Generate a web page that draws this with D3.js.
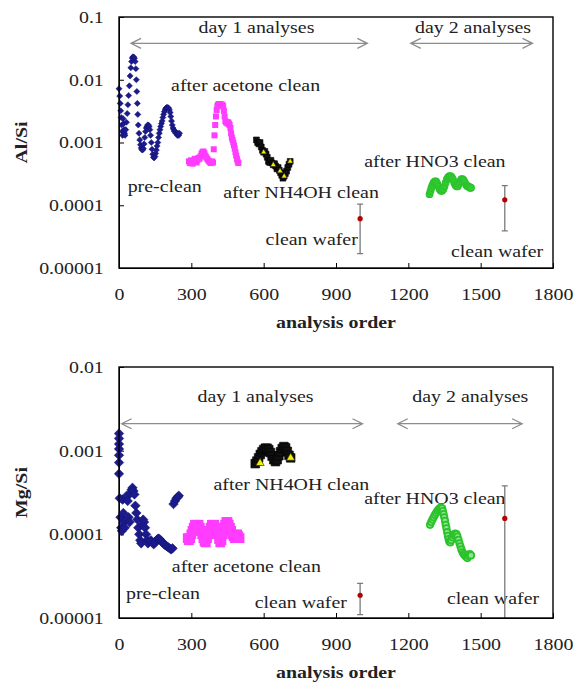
<!DOCTYPE html>
<html>
<head>
<meta charset="utf-8">
<script src="https://cdn.jsdelivr.net/npm/d3@7"></script>
<style>
body { margin: 0; background: #fff; }
svg text { font-family: "Liberation Serif", "Times New Roman", serif; font-size: 17px; fill: #222; }
</style>
</head>
<body>
<div class="chart-area"></div>
<script>
// two stacked log-scale panels: Al/Si and Mg/Si vs analysis order

// ---- tick values ----
const xTickValues = [0, 300, 600, 900, 1200, 1500, 1800];
const alTickValues = [0.1, 0.01, 0.001, 0.0001, 0.00001];
const mgTickValues = [0.01, 0.001, 0.0001, 0.00001];

// ---- Al/Si data ----
const alPreX = [0,3,5,7,9,11,13,15,17,19,21,23,25,28,31,34,37,40,43,46,49,52,55,58,61,64,67,70,72,74,76,78,80,83,86,89,92,95,98,101,104,107,110,113,116,119,122,125,128,131,134,137,140,143,146,149,152,155,158,161,164,167,170,173,176,179,182,185,188,191,194,197,200,203,206,209,212,215,218,221,224,227,230,233,236,239,242,245,248,251];
const alPreY = [0.0072,0.0055,0.0042,0.0032,0.0025,0.0019,0.0015,0.0013,0.0024,0.0020,0.0016,0.0014,0.0013,0.0016,0.0021,0.0029,0.0040,0.0056,0.0080,0.0115,0.0155,0.0195,0.0222,0.0232,0.0230,0.0220,0.0195,0.0150,0.0100,0.0065,0.0042,0.0028,0.0019,0.0014,0.0011,0.00092,0.00082,0.00077,0.00076,0.00080,0.00095,0.0012,0.0015,0.0017,0.0018,0.0019,0.0019,0.0018,0.0016,0.0013,0.0010,0.00078,0.00065,0.00058,0.00057,0.00060,0.00067,0.00076,0.00088,0.0010,0.0012,0.0014,0.0016,0.0018,0.0020,0.0022,0.0025,0.0028,0.0031,0.0033,0.0035,0.0036,0.0036,0.0036,0.0035,0.0033,0.0030,0.0026,0.0022,0.0019,0.0017,0.0016,0.0015,0.0015,0.0014,0.0014,0.0013,0.0014,0.0013,0.0014];

const alAceX = [290,294,298,302,306,310,314,318,322,326,330,334,338,342,346,350,354,358,362,366,370,374,378,382,386,390,393,396,399,402,405,408,411,414,417,420,423,426,429,432,435,438,441,444,447,450,453,456,459,462,465,468,471,474,477,480,483,486,489,492,495];
const alAceY = [0.00050,0.00047,0.00052,0.00049,0.00046,0.00051,0.00055,0.00050,0.00048,0.00053,0.00057,0.00055,0.00060,0.00066,0.00070,0.00072,0.00068,0.00062,0.00058,0.00055,0.00052,0.00050,0.00048,0.00047,0.00050,0.00048,0.00078,0.0013,0.0019,0.0026,0.0033,0.0038,0.0040,0.0041,0.0040,0.0041,0.0040,0.0039,0.0040,0.0038,0.0032,0.0026,0.0022,0.0021,0.0021,0.0020,0.0021,0.0020,0.0019,0.0017,0.0014,0.0012,0.0011,0.0010,0.00090,0.00080,0.00070,0.00062,0.00055,0.00050,0.00047];

const alNhX = [570,575,580,585,590,595,600,605,610,615,620,625,630,635,640,645,650,655,660,665,670,675,680,685,690,695,700,705,710];
const alNhY = [0.0011,0.0010,0.00095,0.0010,0.00085,0.00075,0.00070,0.00072,0.00065,0.00058,0.00050,0.00048,0.00052,0.00047,0.00044,0.00046,0.00042,0.00038,0.00040,0.00036,0.00033,0.00030,0.00027,0.00029,0.00032,0.00035,0.00040,0.00045,0.00050];
const alTriX = [600, 640, 668, 685, 710];
const alTriY = [0.00070, 0.00044, 0.00035, 0.00029, 0.00050];

const alHnoX = [1288,1292,1296,1300,1305,1310,1315,1320,1325,1330,1335,1340,1345,1350,1355,1360,1365,1370,1375,1380,1385,1390,1395,1400,1405,1410,1415,1420,1425,1430,1435,1440,1445,1450,1455,1460];
const alHnoY = [0.00015,0.00017,0.00019,0.00021,0.00023,0.00024,0.00024,0.00022,0.00020,0.00018,0.00017,0.00017,0.00018,0.00020,0.00023,0.00026,0.00028,0.00029,0.00029,0.00028,0.00026,0.00023,0.00021,0.00020,0.00020,0.00022,0.00024,0.00026,0.00026,0.00025,0.00023,0.00021,0.00020,0.00020,0.00019,0.00019];

// clean wafers (mean, low, high)
const waferX = [1000, 1600];
const alWaferY = [0.000061, 0.000122];
const alWaferLo = [0.000017, 0.000039];
const alWaferHi = [0.000104, 0.000206];

// ---- Mg/Si data ----
const mgPreX = [0,0,0,0,0,0,0,3,6,9,12,15,18,21,24,28,32,36,40,44,48,52,56,60,64,68,72,76,80,84,88,92,96,100,104,108,112,116,120,126,132,138,144,150,156,162,168,174,180,186,192,198,204,210,216,222,226,232,238,244,248];
const mgPreY = [0.0016,0.0014,0.0012,0.00105,0.00088,0.00072,0.00053,0.00027,0.00016,0.00012,0.00011,0.00026,0.00018,0.00014,0.00012,0.00027,0.00029,0.00025,0.00016,0.00014,0.00031,0.00034,0.00036,0.00033,0.00030,0.00022,0.00018,0.00015,0.00012,0.00010,0.000085,0.000078,0.00013,0.00015,0.00014,0.00012,0.00010,0.000085,0.000078,0.000082,0.000085,0.000080,0.000076,0.000080,0.000085,0.000089,0.000088,0.000084,0.000080,0.000077,0.000074,0.000072,0.000070,0.000068,0.000066,0.000068,0.00023,0.00025,0.00027,0.00028,0.00029];

const mgAceX = [285,290,295,300,305,310,315,320,325,330,335,340,345,350,355,360,365,370,375,380,385,390,395,400,405,410,415,420,425,430,435,440,445,450,455,460,465,470,475,480,485,490,495,500];
const mgAceY = [0.000090,0.000085,0.000090,0.00010,0.00011,0.00012,0.00013,0.00013,0.00013,0.00013,0.00012,0.00011,0.00010,0.000090,0.000082,0.000080,0.000090,0.00010,0.00011,0.00012,0.00013,0.00013,0.00013,0.00012,0.00011,0.00010,0.000088,0.000080,0.000085,0.00010,0.00012,0.00013,0.00014,0.00014,0.00013,0.00012,0.00011,0.00010,0.000095,0.000090,0.000095,0.00010,0.000095,0.000090];

const mgNhX = [565,572,579,586,593,600,607,614,621,628,635,642,649,656,663,670,677,684,691,698,705,712];
const mgNhY = [0.00070,0.00075,0.00082,0.00090,0.00097,0.00103,0.00107,0.00107,0.00103,0.00095,0.00086,0.00078,0.00074,0.00078,0.00087,0.00097,0.00106,0.00112,0.00108,0.00098,0.00088,0.00082];
const mgTriX = [585, 712];
const mgTriY = [0.00071, 0.00082];

const mgHnoX = [1290,1295,1300,1305,1310,1315,1320,1325,1330,1335,1340,1343,1346,1349,1352,1355,1358,1361,1364,1367,1370,1374,1378,1382,1386,1390,1395,1400,1404,1408,1412,1416,1420,1425,1430,1435,1440,1445,1450,1455,1460];
const mgHnoY = [0.000130,0.000140,0.000150,0.000160,0.000170,0.000180,0.000190,0.000198,0.000205,0.000208,0.000205,0.000190,0.000175,0.000160,0.000145,0.000130,0.000118,0.000106,0.000096,0.000088,0.000082,0.000080,0.000085,0.000092,0.000098,0.000100,0.000102,0.000100,0.000094,0.000086,0.000078,0.000072,0.000066,0.000061,0.000058,0.000056,0.000054,0.000052,0.000055,0.000058,0.000056];

const mgWaferY = [0.0000187, 0.000155];
const mgWaferLo = [0.000011, 0.000001];   // second bar runs below the axis
const mgWaferHi = [0.000026, 0.00038];

// ---- layout ----
const svgWidth = 574, svgHeight = 684;
const plotLeft = 119, plotRight = 553;
const stretch = 1.17;   // the source font is wide

const svg = d3.select(".chart-area").append("svg")
    .attr("width", svgWidth)
    .attr("height", svgHeight);

const pts = (xs, ys) => xs.map((x, i) => ({ x: x, y: ys[i] }));
const wafers = (ys, lo, hi) => waferX.map((x, i) => ({ x: x, y: ys[i], lo: lo[i], hi: hi[i] }));

function putText(g, x, y, str, anchor, rotate) {
    return g.append("text")
        .attr("transform", `translate(${x},${y})${rotate ? " rotate(-90)" : ""} scale(${stretch},1)`)
        .attr("text-anchor", anchor || "start")
        .text(str);
}

const panels = [
    {
        top: 17, bottom: 268, yDomain: [0.00001, 0.1], yTicks: alTickValues, yTitle: "Al/Si",
        big: false,
        pre: pts(alPreX, alPreY), ace: pts(alAceX, alAceY), nh: pts(alNhX, alNhY),
        tri: pts(alTriX, alTriY), hno: pts(alHnoX, alHnoY),
        wafer: wafers(alWaferY, alWaferLo, alWaferHi),
        arrowY: 0.038, dayTextY: 0.0556,
        days: [{ from: 50, to: 1030, mid: 570, text: "day 1 analyses" },
               { from: 1210, to: 1715, mid: 1468, text: "day 2 analyses" }],
        labels: [
            { text: "after acetone clean", x: 216, y: 0.0065 },
            { text: "pre-clean", x: 36, y: 0.000165 },
            { text: "after NH4OH clean", x: 432, y: 0.000131 },
            { text: "clean wafer", x: 608, y: 0.0000234 },
            { text: "after HNO3 clean", x: 1017, y: 0.000413 },
            { text: "clean wafer", x: 1377, y: 0.0000152 }
        ]
    },
    {
        top: 367, bottom: 618, yDomain: [0.00001, 0.01], yTicks: mgTickValues, yTitle: "Mg/Si",
        big: true,
        pre: pts(mgPreX, mgPreY), ace: pts(mgAceX, mgAceY), nh: pts(mgNhX, mgNhY),
        tri: pts(mgTriX, mgTriY), hno: pts(mgHnoX, mgHnoY),
        wafer: wafers(mgWaferY, mgWaferLo, mgWaferHi),
        arrowY: 0.0021, dayTextY: 0.0038,
        days: [{ from: 11, to: 1010, mid: 566, text: "day 1 analyses" },
               { from: 1156, to: 1672, mid: 1457, text: "day 2 analyses" }],
        labels: [
            { text: "after NH4OH clean", x: 392, y: 0.000336 },
            { text: "after acetone clean", x: 219, y: 0.0000356 },
            { text: "pre-clean", x: 29, y: 0.0000171 },
            { text: "clean wafer", x: 563, y: 0.000013 },
            { text: "after HNO3 clean", x: 1017, y: 0.000233 },
            { text: "clean wafer", x: 1360, y: 0.0000149 }
        ]
    }
];

panels.forEach(drawPanel);

function drawPanel(p) {
    const x = d3.scaleLinear().domain([0, 1800]).range([plotLeft, plotRight]);
    const y = d3.scaleLog().domain(p.yDomain).range([p.bottom, p.top]).clamp(true);
    const g = svg.append("g");
    const at = d => `translate(${x(d.x)},${y(d.y)})`;

    // axes (ticks point inward)
    const xAxis = g.append("g")
        .attr("transform", `translate(0,${p.bottom})`)
        .call(d3.axisBottom(x).tickValues(xTickValues).tickSizeInner(-5).tickSizeOuter(0)
            .tickPadding(20).tickFormat(d3.format("d")));
    const yAxis = g.append("g")
        .attr("transform", `translate(${plotLeft},0)`)
        .call(d3.axisLeft(y).tickValues(p.yTicks).tickSizeInner(-5).tickSizeOuter(0)
            .tickPadding(13).tickFormat(d => d.toFixed(Math.round(-Math.log10(d)))));
    [xAxis, yAxis].forEach(a => {
        a.selectAll("text").attr("transform", `scale(${stretch},1)`).attr("fill", "#222");
        a.selectAll("line").attr("stroke", "#000");
        a.select(".domain").attr("stroke", "#000");
    });

    // axis titles
    putText(g, (plotLeft + plotRight) / 2, p.bottom + 60, "analysis order", "middle")
        .style("font-weight", "bold");
    putText(g, 27, (p.top + p.bottom) / 2, p.yTitle, "middle", true)
        .style("font-weight", "bold");

    // day arrows
    p.days.forEach(d => {
        const ay = y(p.arrowY), x0 = x(d.from), x1 = x(d.to);
        g.append("path")
            .attr("d", `M${x0},${ay}H${x1}M${x0 + 10},${ay - 5}L${x0},${ay}L${x0 + 10},${ay + 5}` +
                       `M${x1 - 10},${ay - 5}L${x1},${ay}L${x1 - 10},${ay + 5}`)
            .attr("fill", "none")
            .attr("stroke", "#8c8c8c")
            .attr("stroke-width", 1.3);
        putText(g, x(d.mid), y(p.dayTextY), d.text, "middle");
    });

    // text labels (under the marks)
    p.labels.forEach(l => putText(g, x(l.x), y(l.y), l.text, "start"));

    // series
    const s = p.big ? 1 : 0;
    g.selectAll("path.pre").data(p.pre).join("path").attr("class", "pre")
        .attr("transform", at)
        .attr("d", d3.symbol(d3.symbolDiamond2, [24, 58][s]))
        .attr("fill", "#1b1b8e").attr("stroke", "#12126e").attr("stroke-width", 0.5);

    g.selectAll("path.ace").data(p.ace).join("path").attr("class", "ace")
        .attr("transform", at)
        .attr("d", d3.symbol(d3.symbolSquare, [36, 95][s]))
        .attr("fill", "#ff3cff");

    g.selectAll("path.nh").data(p.nh).join("path").attr("class", "nh")
        .attr("transform", at)
        .attr("d", d3.symbol(d3.symbolSquare, [34, 75][s]))
        .attr("fill", "#111").attr("stroke", "#000").attr("stroke-width", 0.6);

    g.selectAll("path.tri").data(p.tri).join("path").attr("class", "tri")
        .attr("transform", at)
        .attr("d", d3.symbol(d3.symbolTriangle, [14, 30][s]))
        .attr("fill", "#f2f200").attr("stroke", "#222").attr("stroke-width", 0.6);

    g.selectAll("circle.hno").data(p.hno).join("circle").attr("class", "hno")
        .attr("cx", d => x(d.x)).attr("cy", d => y(d.y))
        .attr("r", [3.3, 3.2][s])
        .attr("fill", ["#33cc33", "#8fe48f"][s])
        .attr("stroke", "#2cc22c").attr("stroke-width", [1.2, 1.8][s]);

    // clean wafers with error bars
    const wg = g.selectAll("g.wafer").data(p.wafer).join("g").attr("class", "wafer");
    wg.append("path")
        .attr("d", d => {
            const cx = x(d.x), lo = y(d.lo), hi = y(d.hi);
            return `M${cx},${lo}V${hi}M${cx - 3},${hi}H${cx + 3}` +
                   (d.lo < p.yDomain[0] ? "" : `M${cx - 3},${lo}H${cx + 3}`);
        })
        .attr("stroke", "#7a7a7a").attr("stroke-width", 1.3).attr("fill", "none");
    wg.append("circle")
        .attr("cx", d => x(d.x)).attr("cy", d => y(d.y)).attr("r", 2.6)
        .attr("fill", "#b30000");

    // plot frame
    g.append("rect")
        .attr("x", plotLeft).attr("y", p.top)
        .attr("width", plotRight - plotLeft).attr("height", p.bottom - p.top)
        .attr("fill", "none").attr("stroke", "#000").attr("stroke-width", 1.4);
}
</script>
</body>
</html>
